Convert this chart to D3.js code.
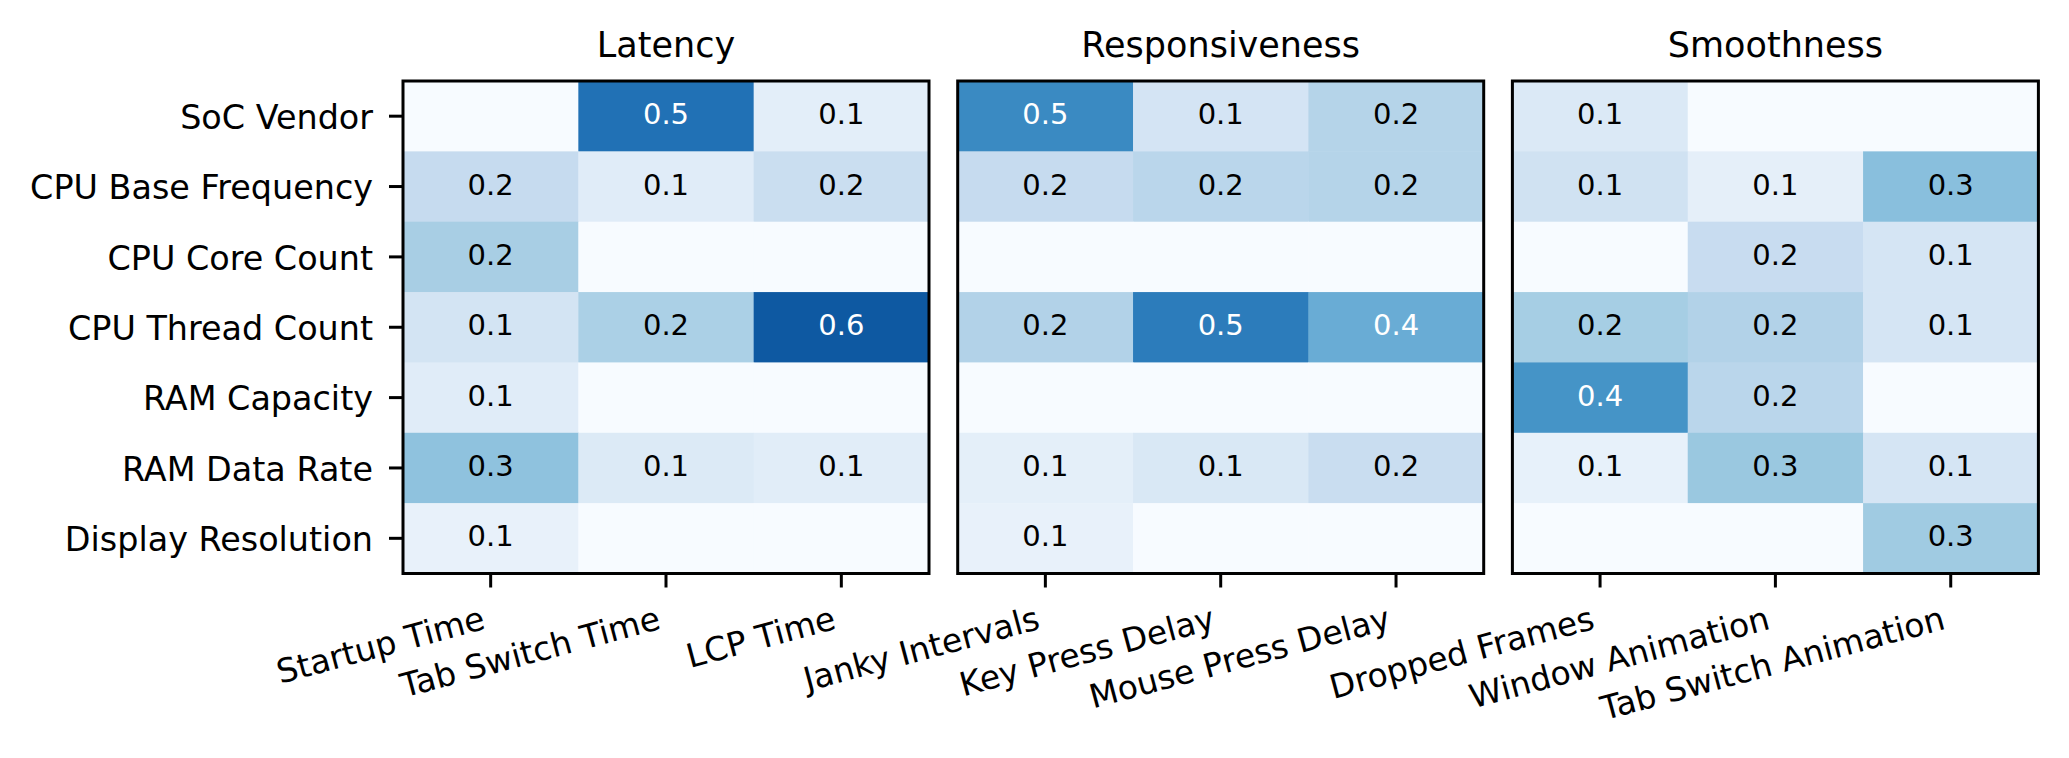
<!DOCTYPE html>
<html>
<head>
<meta charset="utf-8">
<script src="https://cdn.jsdelivr.net/npm/d3@7"></script>
<style>
  body { margin: 0; background: #fff; }
  svg { display: block; font-family: "DejaVu Sans", sans-serif; }
</style>
</head>
<body>
<div id="chart"></div>
<script>
// row labels shared by the three panels
const features = ["SoC Vendor", "CPU Base Frequency", "CPU Core Count", "CPU Thread Count",
                  "RAM Capacity", "RAM Data Rate", "Display Resolution"];

const panelTitles = ["Latency", "Responsiveness", "Smoothness"];

const latencyMetrics = ["Startup Time", "Tab Switch Time", "LCP Time"];
const responsivenessMetrics = ["Janky Intervals", "Key Press Delay", "Mouse Press Delay"];
const smoothnessMetrics = ["Dropped Frames", "Window Animation", "Tab Switch Animation"];

// one row per feature, one column per metric (0 = no effect, left blank)
const latencyValues = [
  [0,     0.525, 0.070],
  [0.175, 0.081, 0.160],
  [0.241, 0,     0],
  [0.127, 0.234, 0.591],
  [0.081, 0,     0],
  [0.288, 0.095, 0.077],
  [0.053, 0,     0]
];
const responsivenessValues = [
  [0.459, 0.124, 0.212],
  [0.175, 0.201, 0.212],
  [0,     0,     0],
  [0.219, 0.496, 0.355],
  [0,     0,     0],
  [0.067, 0.106, 0.164],
  [0.053, 0,     0]
];
const smoothnessValues = [
  [0.099, 0,     0],
  [0.139, 0.063, 0.298],
  [0,     0.168, 0.120],
  [0.244, 0.219, 0.120],
  [0.431, 0.201, 0],
  [0.056, 0.270, 0.120],
  [0,     0,     0.258]
];

const vmax = 0.7;

const panels = [
  { title: panelTitles[0], cols: latencyMetrics, values: latencyValues },
  { title: panelTitles[1], cols: responsivenessMetrics, values: responsivenessValues },
  { title: panelTitles[2], cols: smoothnessMetrics, values: smoothnessValues }
];

const width = 2069, height = 758;
const plotTop = 81, plotBottom = 573.5;
const panelW = 526, gap = 28.7, left0 = 403;
const tickLen = 14;

// matplotlib "Blues"
const bluesStops = ["#f7fbff", "#deebf7", "#c6dbef", "#9ecae1", "#6baed6",
                    "#4292c6", "#2171b5", "#08519c", "#08306b"];
const color = d3.scaleLinear()
    .domain(bluesStops.map((d, i) => i / 8 * vmax))
    .range(bluesStops)
    .interpolate(d3.interpolateRgb)
    .clamp(true);

function textColor(fill) {
    const c = d3.rgb(fill);
    const lin = v => { v /= 255; return v <= 0.03928 ? v / 12.92 : Math.pow((v + 0.055) / 1.055, 2.4); };
    const lum = 0.2126 * lin(c.r) + 0.7152 * lin(c.g) + 0.0722 * lin(c.b);
    return lum > 0.408 ? "#000" : "#fff";
}

const svg = d3.select("#chart")
    .append("svg")
    .attr("width", width)
    .attr("height", height);

const y = d3.scaleBand()
    .domain(features)
    .range([plotTop, plotBottom]);

panels.forEach((p, pi) => {
    const left = left0 + pi * (panelW + gap);
    const x = d3.scaleBand()
        .domain(p.cols)
        .range([left, left + panelW]);

    const g = svg.append("g");

    const cells = [];
    p.values.forEach((row, ri) => row.forEach((v, ci) => {
        cells.push({ row: features[ri], col: p.cols[ci], value: v });
    }));

    g.selectAll("rect.cell")
        .data(cells)
        .enter().append("rect")
        .attr("class", "cell")
        .attr("x", d => x(d.col))
        .attr("y", d => y(d.row))
        .attr("width", x.bandwidth() + 0.5)
        .attr("height", y.bandwidth() + 0.5)
        .attr("fill", d => color(d.value));

    g.selectAll("text.annot")
        .data(cells.filter(d => d.value > 0))
        .enter().append("text")
        .attr("class", "annot")
        .attr("x", d => x(d.col) + x.bandwidth() / 2)
        .attr("y", d => y(d.row) + y.bandwidth() / 2 + 8)
        .attr("text-anchor", "middle")
        .attr("font-size", 29)
        .attr("fill", d => textColor(color(d.value)))
        .text(d => d.value.toFixed(1));

    // frame
    g.append("rect")
        .attr("x", left)
        .attr("y", plotTop)
        .attr("width", panelW)
        .attr("height", plotBottom - plotTop)
        .attr("fill", "none")
        .attr("stroke", "#000")
        .attr("stroke-width", 3);

    g.append("text")
        .attr("x", left + panelW / 2)
        .attr("y", 56.7)
        .attr("text-anchor", "middle")
        .attr("font-size", 35)
        .text(p.title);

    const xAxis = g.append("g")
        .attr("transform", `translate(0,${plotBottom})`)
        .call(d3.axisBottom(x).tickSize(tickLen));
    xAxis.select(".domain").remove();
    xAxis.selectAll(".tick line").attr("stroke-width", 3);
    xAxis.selectAll(".tick text")
        .attr("y", null)
        .attr("dy", null)
        .attr("text-anchor", "end")
        .attr("font-size", 33)
        .attr("font-family", "DejaVu Sans")
        .attr("fill", "#000")
        .attr("transform", "translate(-4,55) rotate(-15)");

    if (pi === 0) {
        const yAxis = g.append("g")
            .attr("transform", `translate(${left},0)`)
            .call(d3.axisLeft(y).tickSize(tickLen).tickPadding(16));
        yAxis.select(".domain").remove();
        yAxis.selectAll(".tick line").attr("stroke-width", 3);
        yAxis.selectAll(".tick text")
            .attr("dy", null)
            .attr("y", 12.8)
            .attr("font-size", 33.4)
            .attr("font-family", "DejaVu Sans")
            .attr("fill", "#000");
    }
});
</script>
</body>
</html>
